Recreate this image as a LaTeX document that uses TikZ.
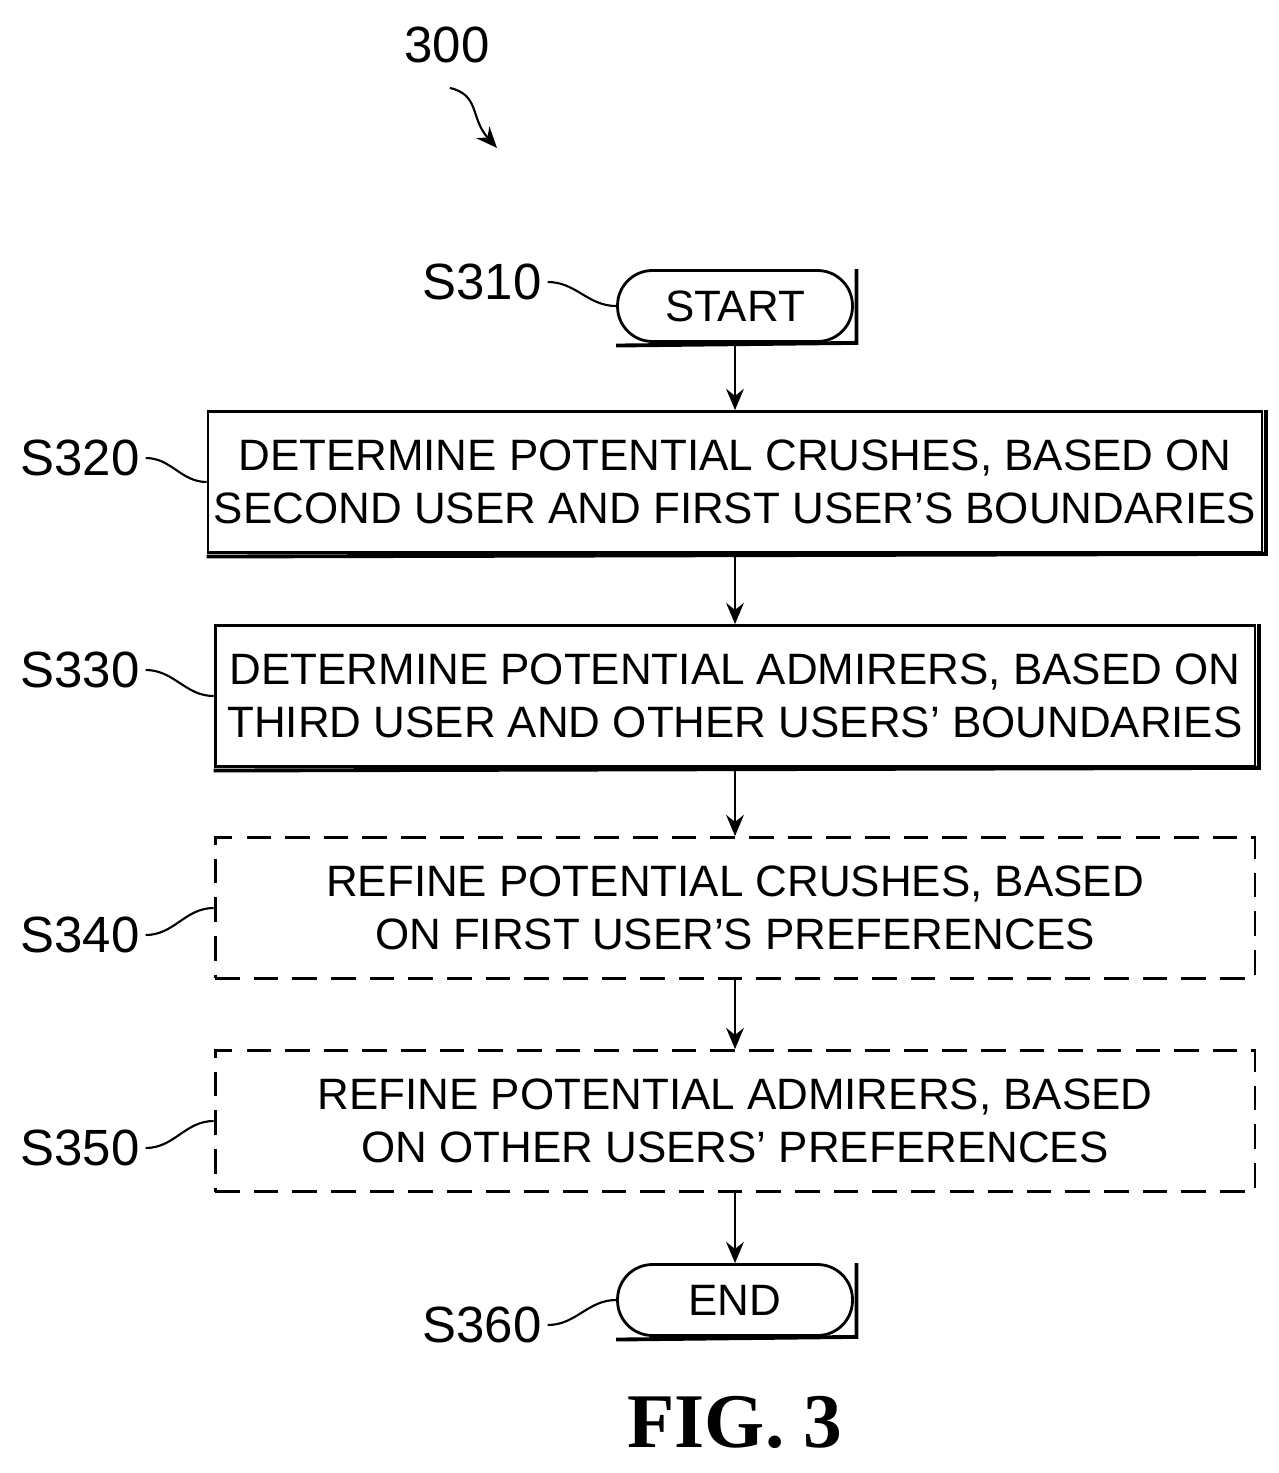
\documentclass[tikz,border=0pt]{standalone}
\usepackage{fontspec}
\setmainfont{Liberation Sans}
\newfontfamily\figfont{Liberation Serif}
\usetikzlibrary{arrows.meta,positioning}

\tikzset{
  stepbox/.style={draw, line width=1.6pt, minimum width=20.8cm, minimum height=2.82cm,
    align=center, font=\fontsize{25}{30}\selectfont},
  optbox/.style={stepbox, dash pattern=on 14pt off 8pt},
  term/.style={draw, line width=1.6pt, rounded corners=0.7cm, minimum width=4.7cm,
    minimum height=1.42cm, font=\fontsize{25}{30}\selectfont},
  tag/.style={font=\fontsize{29}{34}\selectfont},
  flow/.style={-{Stealth[length=12pt,width=10pt]}, line width=1.6pt},
  wave/.style={line width=1.2pt}
}

\begin{document}
\begin{tikzpicture}[x=0.02cm, y=-0.02cm]
  \useasboundingbox (0,0) rectangle (1278,1473);

  % reference number
  \node[tag] (fig) at (447,45) {300};
  \coordinate (figtip) at (497,148);
  \draw[wave, -{Stealth[length=12pt,width=10pt]}] (450,88) .. controls (480,95) and (470,118) .. (figtip);

  % steps
  \node[term] (start) at (735,306) {START};
  \node[stepbox] (s320) at (735,482) {DETERMINE POTENTIAL CRUSHES, BASED ON\\SECOND USER AND FIRST USER'S BOUNDARIES};
  \node[stepbox] (s330) at (735,696) {DETERMINE POTENTIAL ADMIRERS, BASED ON\\THIRD USER AND OTHER USERS' BOUNDARIES};
  \node[optbox] (s340) at (735,908) {REFINE POTENTIAL CRUSHES, BASED\\ON FIRST USER'S PREFERENCES};
  \node[optbox] (s350) at (735,1121) {REFINE POTENTIAL ADMIRERS, BASED\\ON OTHER USERS' PREFERENCES};
  \node[term] (end) at (735,1300) {END};

  % shadow edges
  \foreach \n in {start,s320,s330,end}
    \draw[line width=2.2pt] ([xshift=1.5pt]\n.north east) -- ([xshift=1.5pt]\n.south east) -- ([yshift=-1.5pt]\n.south west);

  % connectors
  \draw[flow] (start) -- (s320);
  \draw[flow] (s320) -- (s330);
  \draw[flow] (s330) -- (s340);
  \draw[flow] (s340) -- (s350);
  \draw[flow] (s350) -- (end);

  % labels
  \node[tag] (l310) at (482,282) {S310};
  \node[tag] (l320) at (80,458) {S320};
  \node[tag] (l330) at (80,670) {S330};
  \node[tag] (l340) at (80,935) {S340};
  \node[tag] (l350) at (80,1148) {S350};
  \node[tag] (l360) at (482,1325) {S360};
  \draw[wave] (l310.east) to[out=0,in=180] (start.west);
  \draw[wave] (l320.east) to[out=0,in=180] (s320.west);
  \draw[wave] (l330.east) to[out=0,in=180] (s330.west);
  \draw[wave] (l340.east) to[out=0,in=180] (s340.west);
  \draw[wave] (l350.east) to[out=0,in=180] (s350.west);
  \draw[wave] (l360.east) to[out=0,in=180] (end.west);

  \node[font=\figfont\bfseries\fontsize{44}{50}\selectfont] (cap) at (735,1422) {FIG. 3};
\end{tikzpicture}
\end{document}
